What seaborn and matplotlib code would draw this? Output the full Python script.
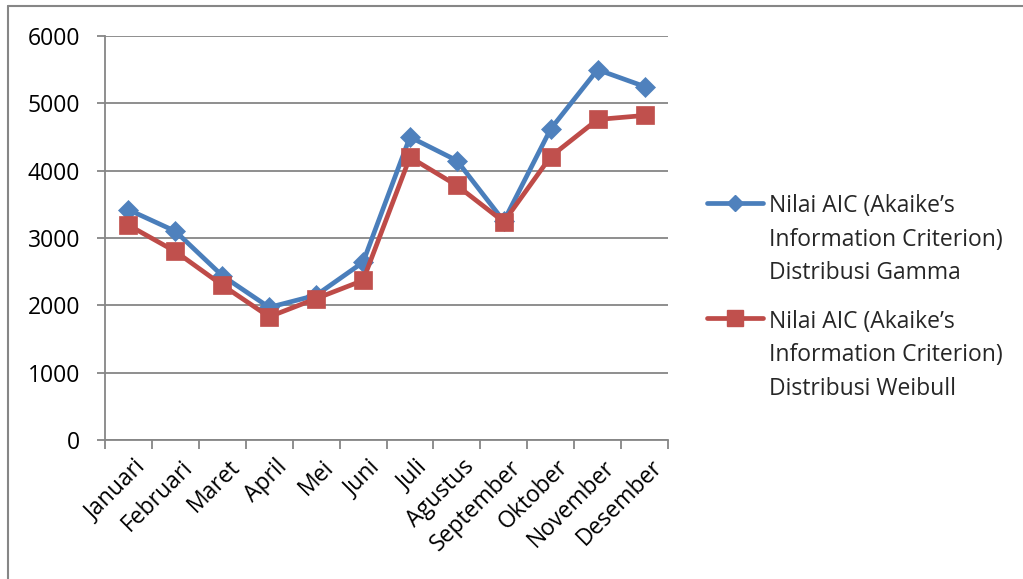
import numpy as np
import pandas as pd
import matplotlib
matplotlib.use("Agg")
import matplotlib.pyplot as plt
from matplotlib.lines import Line2D
from matplotlib.legend_handler import HandlerLine2D
from matplotlib.ticker import FixedLocator
import seaborn as sns

months = ["Januari", "Februari", "Maret", "April", "Mei", "Juni", "Juli",
          "Agustus", "September", "Oktober", "November", "Desember"]
aic_gamma = [3420, 3100, 2440, 1970, 2150, 2640, 4500, 4150, 3250, 4620, 5500, 5250]
aic_weibull = [3190, 2800, 2300, 1830, 2100, 2370, 4200, 3780, 3240, 4210, 4760, 4820]
label_gamma = "Nilai AIC (Akaike\u2019s\nInformation Criterion)\nDistribusi Gamma"
label_weibull = "Nilai AIC (Akaike\u2019s\nInformation Criterion)\nDistribusi Weibull"
y_ticks = [0, 1000, 2000, 3000, 4000, 5000, 6000]

sns.set_theme(style="white")
plt.rcParams["font.family"] = ["Open Sans", "DejaVu Sans"]

W, H, DPI = 1023, 579, 100
FS = 16.5
fig = plt.figure(figsize=(W / DPI, H / DPI), dpi=DPI)
ax = fig.add_axes([105 / W, 1 - 440 / H, (668 - 105) / W, (440 - 36) / H])

grey = "#868686"
blue_line, blue_mark = "#4A7EBB", "#4F81BD"
red_line, red_mark = "#BE4B48", "#C0504D"

x = np.arange(len(months))
df = pd.DataFrame({"pos": x, "gamma": aic_gamma, "weibull": aic_weibull})

sns.lineplot(data=df, x="pos", y="gamma", ax=ax, color=blue_line, lw=3.4,
             marker="D", markersize=10, markerfacecolor=blue_mark,
             markeredgecolor=blue_mark, markeredgewidth=0.5, zorder=3)
sns.lineplot(data=df, x="pos", y="weibull", ax=ax, color=red_line, lw=3.4,
             marker="s", markersize=13.5, markerfacecolor=red_mark,
             markeredgecolor=red_mark, markeredgewidth=0.5, zorder=4)

ax.set_xlim(-0.5, len(months) - 0.5)
ax.set_ylim(0, 6000)
ax.set_xlabel("")
ax.set_ylabel("")

ax.set_yticks(y_ticks)
ax.set_yticklabels([str(v) for v in y_ticks])
ax.yaxis.grid(True, color=grey, lw=1.3)
ax.set_axisbelow(True)

ax.set_xticks(x + 0.12)
ax.set_xticklabels(months, rotation=45, ha="right", rotation_mode="anchor")
ax.xaxis.set_minor_locator(FixedLocator(np.arange(-0.5, len(months), 1.0)))

for side in ("top", "right"):
    ax.spines[side].set_visible(False)
for side in ("left", "bottom"):
    ax.spines[side].set_color(grey)
    ax.spines[side].set_linewidth(1.3)

ax.tick_params(axis="y", which="major", left=True, length=6, width=1.3,
               color=grey, pad=12, labelsize=FS, labelcolor="black")
ax.tick_params(axis="x", which="major", bottom=False, length=0, pad=11,
               labelsize=FS, labelcolor="black")
ax.tick_params(axis="x", which="minor", bottom=True, length=6.5, width=1.3,
               color=grey)


class FirstLineHandler(HandlerLine2D):
    """Places the legend key beside the first line of a multi-line label."""

    def __init__(self, shift, **kw):
        super().__init__(**kw)
        self.shift = shift

    def create_artists(self, legend, orig_handle, xdescent, ydescent,
                       width, height, fontsize, trans):
        arts = super().create_artists(legend, orig_handle, xdescent, ydescent,
                                      width, height, fontsize, trans)
        for a in arts:
            a.set_ydata(np.asarray(a.get_ydata(), dtype=float) + self.shift)
        return arts


h_gamma = Line2D([], [], color=blue_line, lw=3.4, marker="D", markersize=8.5,
                 markerfacecolor=blue_mark, markeredgecolor=blue_mark)
h_weibull = Line2D([], [], color=red_line, lw=3.4, marker="s", markersize=11.5,
                   markerfacecolor=red_mark, markeredgecolor=red_mark)
shift_pt = 27.5
leg = ax.legend([h_gamma, h_weibull], [label_gamma, label_weibull],
                loc="upper left", bbox_to_anchor=(707 / W, 1 - 194 / H),
                bbox_transform=fig.transFigure, frameon=False,
                fontsize=FS, handlelength=2.45, handletextpad=0.25,
                labelspacing=1.05, borderpad=0, borderaxespad=0,
                handler_map={h_gamma: FirstLineHandler(shift_pt),
                             h_weibull: FirstLineHandler(shift_pt)})
for t in leg.get_texts():
    t.set_linespacing(1.54)

# outer frame (left and top edges)
fig.add_artist(Line2D([8 / W, 8 / W], [0, 1 - 6 / H], transform=fig.transFigure,
                      color=grey, lw=1.5))
fig.add_artist(Line2D([8 / W, 1], [1 - 6 / H, 1 - 6 / H], transform=fig.transFigure,
                      color=grey, lw=1.5))

fig.savefig("out.png", dpi=DPI)
